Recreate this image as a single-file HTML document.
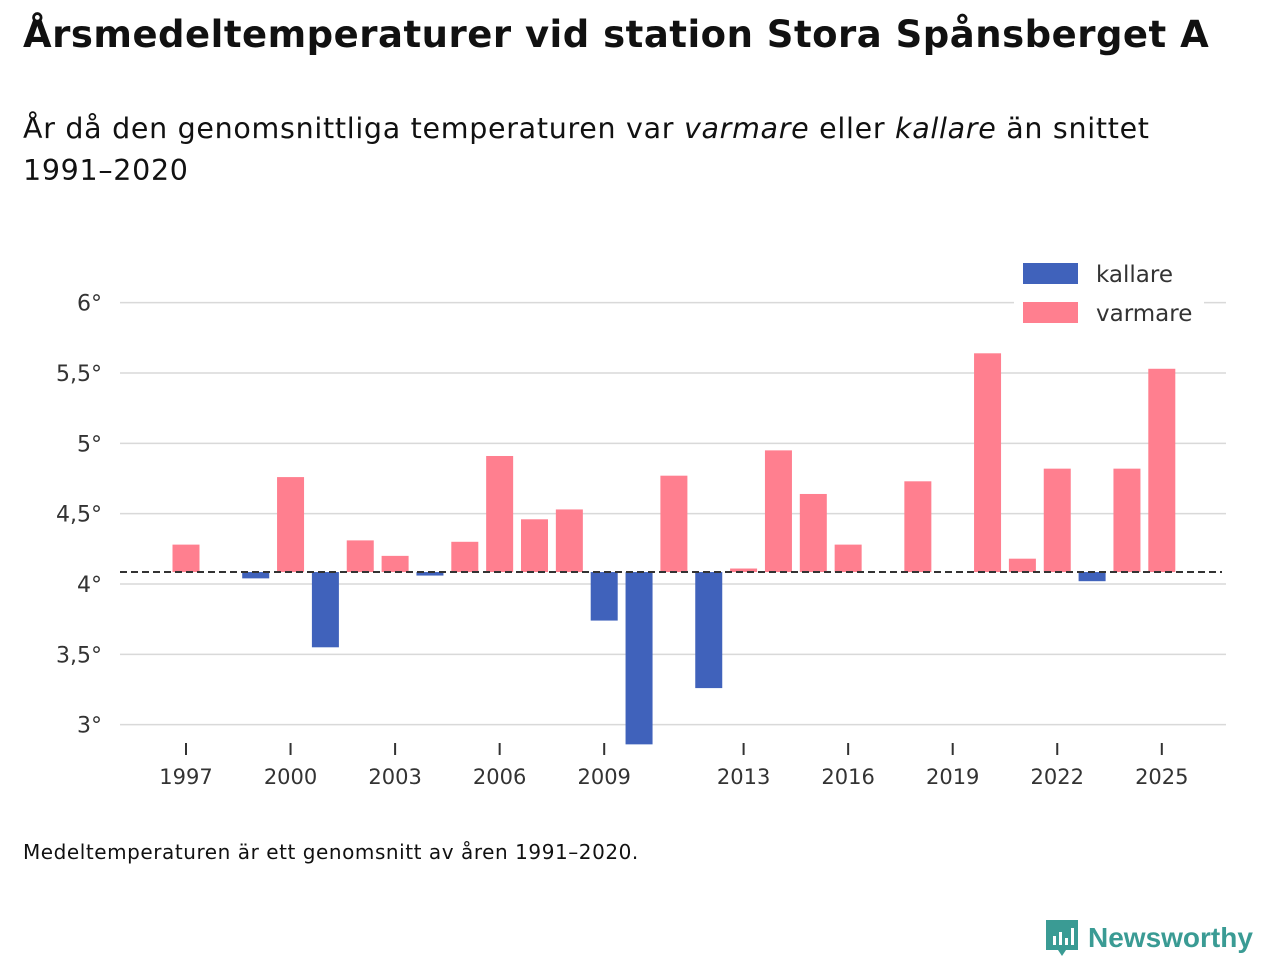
<!DOCTYPE html>
<html><head><meta charset="utf-8"><style>
body{margin:0;background:#fff;width:1280px;height:960px;overflow:hidden;font-family:"DejaVu Sans","Liberation Sans",sans-serif;color:#111}
#title{position:absolute;left:23px;top:13px;font-size:37px;font-weight:bold;margin:0;white-space:nowrap;letter-spacing:0.5px}
#sub{position:absolute;left:23px;top:108px;font-size:28.5px;line-height:42px;width:1200px;letter-spacing:0.7px}
#note{position:absolute;left:23px;top:840px;font-size:20px;letter-spacing:0.55px}
#logo{position:absolute;left:1044px;top:918px;font-size:28px;font-weight:bold;color:#3a9b94;display:flex;align-items:center;gap:8px;font-family:"Liberation Sans",sans-serif}
svg text{font-family:"DejaVu Sans","Liberation Sans",sans-serif}
</style></head><body>
<h1 id="title">Årsmedeltemperaturer vid station Stora Spånsberget A</h1>
<div id="sub">År då den genomsnittliga temperaturen var <i>varmare</i> eller <i>kallare</i> än snittet<br>1991–2020</div>
<svg id="chart" width="1280" height="960" style="position:absolute;left:0;top:0"></svg>
<div id="note">Medeltemperaturen är ett genomsnitt av åren 1991–2020.</div>
<div id="logo"><svg width="36" height="40" viewBox="0 0 36 40"><path d="M2 2h32v30H22l-4 6-4-6H2z" fill="#3a9b94"/><rect x="9" y="18" width="3" height="9" fill="#fff"/><rect x="15" y="14" width="3" height="13" fill="#fff"/><rect x="21" y="20" width="3" height="7" fill="#fff"/><rect x="27" y="10" width="3" height="17" fill="#fff"/></svg><span>Newsworthy</span></div>
<script>
const years=[1997,1998,1999,2000,2001,2002,2003,2004,2005,2006,2007,2008,2009,2010,2011,2012,2013,2014,2015,2016,2017,2018,2019,2020,2021,2022,2023,2024,2025];
const temps=[4.28,null,4.04,4.76,3.55,4.31,4.20,4.06,4.30,4.91,4.46,4.53,3.74,2.86,4.77,3.26,4.11,4.95,4.64,4.28,null,4.73,null,5.64,4.18,4.82,4.02,4.82,5.53];
const baseline=4.085;
const yTicks=[3,3.5,4,4.5,5,5.5,6];
const yTickLabels=["3°","3,5°","4°","4,5°","5°","5,5°","6°"];
const xTicks=[1997,2000,2003,2006,2009,2013,2016,2019,2022,2025];
const NS="http://www.w3.org/2000/svg";
const svg=document.getElementById('chart');
const y=v=>584-(v-4)*140.67;
const x=yr=>186+(yr-1997)*34.85;
function mk(t,a,p){const e=document.createElementNS(NS,t);for(const k in a)e.setAttribute(k,a[k]);(p||svg).appendChild(e);return e;}
yTicks.forEach((v,i)=>{
 const l=mk('line',{x1:120,x2:1226,y1:y(v),y2:y(v),stroke:'#d9d9d9','stroke-width':1.5});
 
 
 const t=mk('text',{x:102,y:y(v)+8,'text-anchor':'end','font-size':22,fill:'#333'});t.textContent=yTickLabels[i];
 
 
});
years.forEach((yr,i)=>{
 const v=temps[i];if(v==null)return;
 const top=Math.min(y(v),y(baseline)),h=Math.abs(y(v)-y(baseline));
 const r=mk('rect',{x:x(yr)-13.5,y:top,width:27,height:h,fill:v>=baseline?'#ff7f8f':'#4062bb'});
 
 
});
const bl=mk('line',{x1:120,x2:1222,y1:y(baseline),y2:y(baseline),stroke:'#333','stroke-width':2,'stroke-dasharray':'7,4'});


xTicks.forEach(yr=>{
 mk('line',{x1:x(yr),x2:x(yr),y1:743,y2:755,stroke:'#333','stroke-width':2});
 const t=mk('text',{x:x(yr),y:784,'text-anchor':'middle','font-size':21,fill:'#333'});t.textContent=yr;
 
 
});
mk('rect',{x:1014,y:256,width:190,height:76,fill:'#fff'});
[['kallare','#4062bb',263],['varmare','#ff7f8f',302]].forEach(([n,c,ty])=>{
 const g=mk('g',{});
 
 
 mk('rect',{x:1023,y:ty,width:55,height:21,fill:c},g);
 const t=mk('text',{x:1096,y:ty+19,'font-size':23,fill:'#333'},g);t.textContent=n;
});
</script>
</body></html>
